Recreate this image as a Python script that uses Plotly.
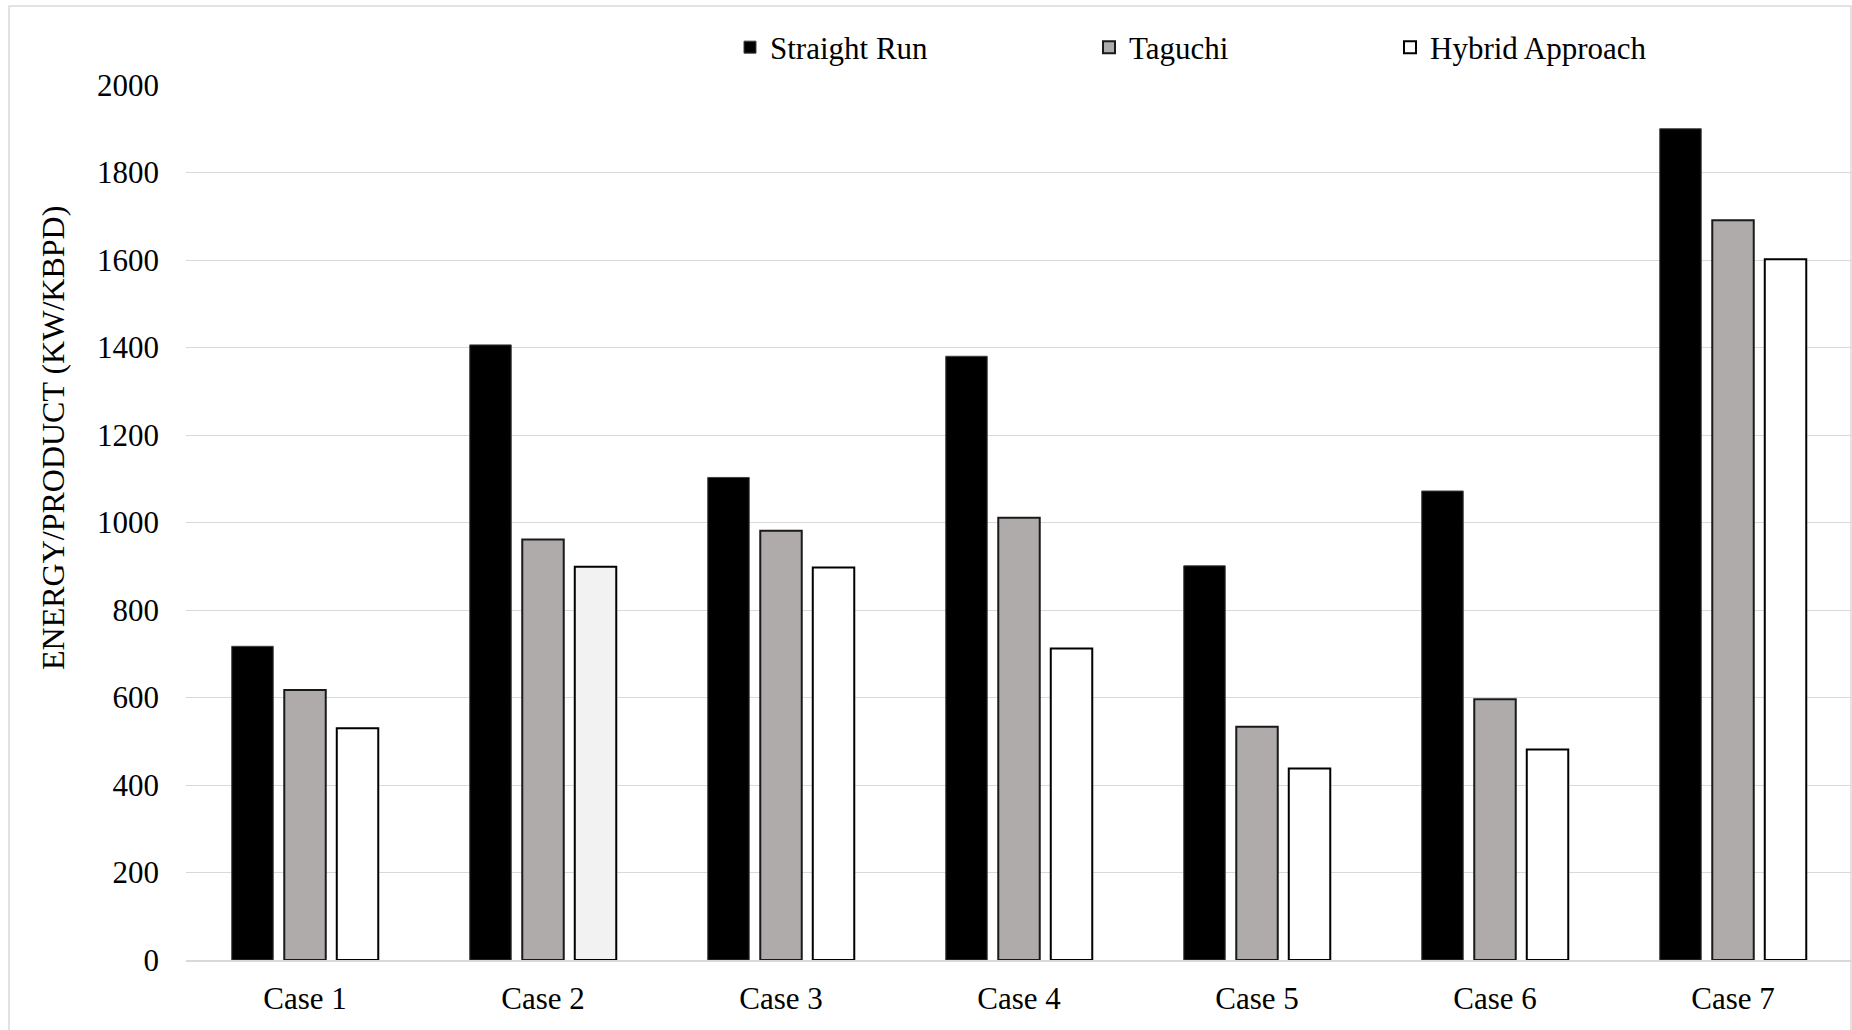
import plotly.graph_objects as go

# Energy use per unit of product for each case and optimisation approach
cases = ["Case 1", "Case 2", "Case 3", "Case 4", "Case 5", "Case 6", "Case 7"]
straight_run = [717, 1406, 1103, 1380, 901, 1072, 1900]
taguchi = [617, 961, 981, 1011, 533, 596, 1691]
hybrid = [530, 899, 897, 712, 438, 481, 1602]
hybrid_fill = ["#FFFFFF", "#F2F2F2", "#FFFFFF", "#FFFFFF", "#FFFFFF", "#FFFFFF", "#FFFFFF"]

y_ticks = [0, 200, 400, 600, 800, 1000, 1200, 1400, 1600, 1800, 2000]
y_title = "ENERGY/PRODUCT (KW/KBPD)"

FONT = "Liberation Serif, Times New Roman, serif"
GRID = "#D9D9D9"

W, H = 1852, 1030
ML, MR, MT, MB = 186, 0, 85, 70
PW = W - ML - MR
PH = H - MT - MB


def px_x(px):
    return (px - ML) / PW


def px_y(py):
    return (H - MB - py) / PH


fig = go.Figure()
fig.add_trace(go.Bar(
    x=cases, y=straight_run, name="Straight Run",
    marker=dict(color="#000000", line=dict(color="#404040", width=1)),
    legend="legend",
))
fig.add_trace(go.Bar(
    x=cases, y=taguchi, name="Taguchi",
    marker=dict(color="#AFABAB", line=dict(color="#1A1A1A", width=2)),
    legend="legend2",
))
fig.add_trace(go.Bar(
    x=cases, y=hybrid, name="Hybrid Approach",
    marker=dict(color=hybrid_fill, line=dict(color="#000000", width=2)),
    legend="legend3",
))

legend_style = dict(
    orientation="h", yanchor="middle", xanchor="left",
    bgcolor="rgba(0,0,0,0)", borderwidth=0,
    font=dict(family=FONT, size=31, color="#000000"),
)
LEG_Y = px_y(47.5)

fig.update_layout(
    width=W, height=H,
    margin=dict(l=ML, r=MR, t=MT, b=MB),
    paper_bgcolor="white", plot_bgcolor="white",
    showlegend=True,
    barmode="group", bargap=0.338, bargroupgap=0.21,
    font=dict(family=FONT, size=31, color="#000000"),
    legend=dict(x=px_x(730), y=LEG_Y, visible=True, **legend_style),
    legend2=dict(x=px_x(1089), y=LEG_Y, visible=True, **legend_style),
    legend3=dict(x=px_x(1390), y=LEG_Y, visible=True, **legend_style),
    xaxis=dict(
        showgrid=False, showline=True, linecolor=GRID, linewidth=1.5,
        ticks="", tickfont=dict(family=FONT, size=31, color="#000000"),
        ticklabelstandoff=10,
    ),
    yaxis=dict(
        range=[0, 2000], tickvals=y_ticks,
        showgrid=True, gridcolor=GRID, gridwidth=1.3,
        showline=False, zeroline=False, ticks="",
        tickfont=dict(family=FONT, size=31, color="#000000"),
        ticklabelstandoff=26,
    ),
    annotations=[dict(
        text=y_title, textangle=-90, showarrow=False,
        xref="paper", yref="paper", x=px_x(53), y=px_y(438),
        xanchor="center", yanchor="middle",
        font=dict(family=FONT, size=32, color="#000000"),
    )],
    shapes=[dict(
        type="rect", xref="paper", yref="paper",
        x0=px_x(9), x1=px_x(1851), y0=-0.2, y1=px_y(6),
        line=dict(color=GRID, width=1.5), fillcolor="rgba(0,0,0,0)", layer="below",
    )],
)

fig.write_html("out.html")
